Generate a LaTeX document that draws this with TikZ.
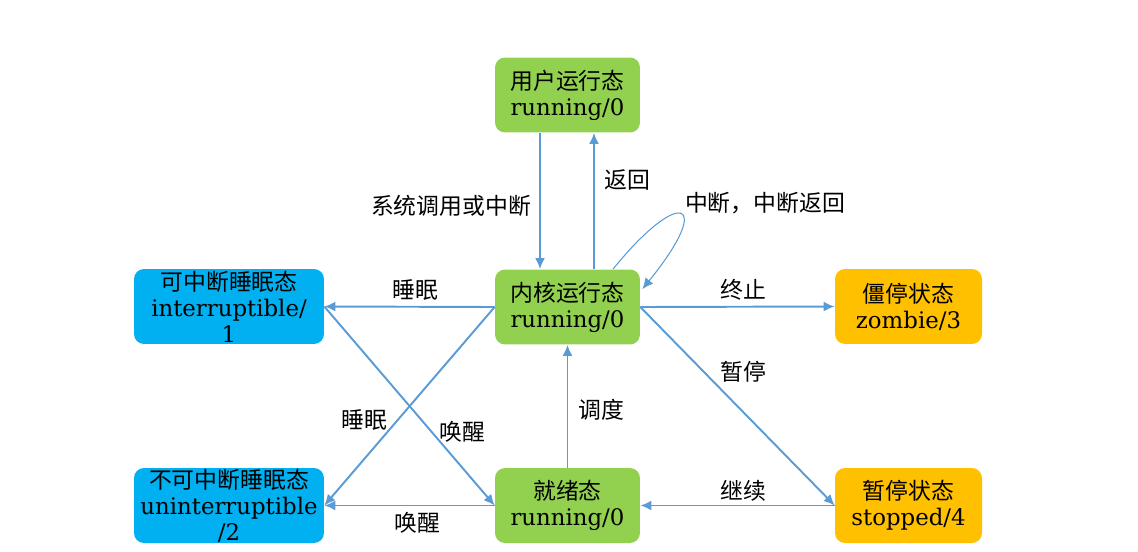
\documentclass[tikz,border=0pt]{standalone}
\usepackage{fontspec}
\setmainfont{DejaVu Serif}
\newfontfamily\cjk{Noto Sans CJK SC}
\usetikzlibrary{arrows.meta}
\definecolor{runGreen}{HTML}{92D050}
\definecolor{sleepBlue}{HTML}{00B0F0}
\definecolor{stopOrange}{HTML}{FFC000}
\definecolor{edgeBlue}{HTML}{5B9BD5}

\begin{document}
\begin{tikzpicture}[
  x=0.02cm,y=-0.02cm,
  state/.style={rectangle,rounded corners=0.2cm,minimum height=1.5cm,inner sep=0pt,
    align=center,font=\fontsize{13pt}{14.8pt}\selectfont,text=black},
  run/.style={state,fill=runGreen,minimum width=2.9cm},
  sleep/.style={state,fill=sleepBlue,minimum width=3.8cm},
  halt/.style={state,fill=stopOrange,minimum width=2.94cm},
  arr/.style={draw=edgeBlue,line width=1.1pt,-{Latex[length=2.2mm,width=2mm]}},
  label/.style={font=\cjk\fontsize{13pt}{14.8pt}\selectfont,text=black,inner sep=1pt},
]

\useasboundingbox (0,0) rectangle (1138,551);

\node[run] (user) at (567.5,95) {{\cjk 用户运行态}\\running/0};
\node[run] (kernel) at (567.5,307) {{\cjk 内核运行态}\\running/0};
\node[run] (ready) at (567.5,505.5) {{\cjk 就绪态}\\running/0};
\node[sleep] (intr) at (229,306.5) {{\cjk 可中断睡眠态}\\interruptible/\\1};
\node[sleep] (unintr) at (229,505.5) {{\cjk 不可中断睡眠态}\\uninterruptible\\/2};
\node[halt] (zombie) at (908.5,306.5) {{\cjk 僵停状态}\\zombie/3};
\node[halt] (stopped) at (908.5,505.5) {{\cjk 暂停状态}\\stopped/4};

\draw[arr] ([xshift=-0.55cm]user.south) -- ([xshift=-0.55cm]kernel.north);
\draw[arr] ([xshift=0.53cm]kernel.north) -- ([xshift=0.53cm]user.south);
\draw[arr,line width=0.6pt] ([xshift=0.91cm]kernel.north)
  .. controls +(1.34cm,1.66cm) and +(1.46cm,1.8cm) .. ([xshift=0.04cm,yshift=-0.4cm]kernel.north east);
\draw[arr] (kernel.west) -- (intr.east);
\draw[arr] (kernel.east) -- (zombie.west);
\draw[arr] (kernel.east) -- (stopped.west);
\draw[arr] (stopped.west) -- (ready.east);
\draw[arr] (ready.north) -- (kernel.south);
\draw[arr] (kernel.west) -- (unintr.east);
\draw[arr] (intr.east) -- (ready.west);
\draw[arr] (ready.west) -- (unintr.east);

\node[label] (syscall) at (451,206) {系统调用或中断};
\node[label] (ret) at (627,180) {返回};
\node[label] (irq) at (765,203) {中断，中断返回};
\node[label] (sleepA) at (415,290) {睡眠};
\node[label] (term) at (743,290) {终止};
\node[label] (pause) at (743,372) {暂停};
\node[label] (sched) at (601,410) {调度};
\node[label] (sleepB) at (364,420) {睡眠};
\node[label] (wakeA) at (462,432) {唤醒};
\node[label] (wakeB) at (417,523) {唤醒};
\node[label] (resume) at (743,491) {继续};

\end{tikzpicture}
\end{document}
